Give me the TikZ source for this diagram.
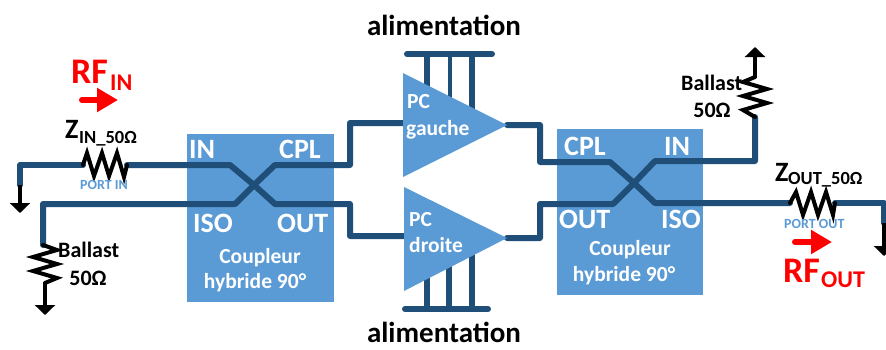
\documentclass[tikz,border=0pt]{standalone}
\usepackage{fontspec}
\setmainfont{Carlito}
\usetikzlibrary{arrows.meta}
\definecolor{boxblue}{HTML}{5B9BD5}
\definecolor{wire}{HTML}{1F4E79}
\tikzset{
  txt/.style={inner sep=0pt,anchor=base west,font=\bfseries},
  ctxt/.style={inner sep=0pt,anchor=base,font=\bfseries},
  pintext/.style={txt,text=white,font=\bfseries\fontsize{28}{28}\selectfont},
  captext/.style={ctxt,text=white,font=\bfseries\fontsize{21.5}{21.5}\selectfont},
  pctxt/.style={txt,text=white,font=\bfseries\fontsize{21.5}{21.5}\selectfont},
  blk/.style={txt,font=\bfseries\fontsize{22}{22}\selectfont},
  blkc/.style={ctxt,font=\bfseries\fontsize{22}{22}\selectfont},
  zmain/.style={txt,font=\bfseries\fontsize{28}{28}\selectfont},
  zsub/.style={txt,font=\bfseries\fontsize{18.5}{18.5}\selectfont},
  porttext/.style={txt,text=boxblue,font=\bfseries\fontsize{14}{14}\selectfont},
  rfmain/.style={txt,text=red,font=\bfseries\fontsize{36}{36}\selectfont},
  rfsub/.style={txt,text=red,font=\bfseries\fontsize{24}{24}\selectfont},
  alim/.style={ctxt,font=\bfseries\fontsize{29}{29}\selectfont},
  bluebox/.style={fill=boxblue,draw=none,inner sep=0pt},
  wireline/.style={draw=wire,line width=6pt,line cap=round,line join=round},
  zigzag/.style={draw=black,line width=4pt,line join=miter,line cap=round},
  gnd/.style={draw=black,line width=4pt,-{Triangle[width=20pt,length=10pt]}},
  rfarrow/.style={draw=red,line width=6pt,line cap=round,-{Triangle[width=23pt,length=21pt]}}
}
\begin{document}
\begin{tikzpicture}[x=1pt,y=-1pt]
\useasboundingbox (0,0) rectangle (886,349);
% coupler boxes
\node[bluebox,minimum width=147pt,minimum height=168pt] (c1) at (260.5,218) {};
\node[bluebox,minimum width=146pt,minimum height=166pt] (c2) at (630,212) {};
% pins
\coordinate (x1) at (254,185);
\coordinate (x2) at (634,183);
\coordinate (pgin) at (404,123);
\coordinate (pgout) at (507,125);
\coordinate (pdin) at (404,236);
\coordinate (pdout) at (507,238);
\coordinate (rinL) at (83,165);
\coordinate (rinR) at (127,165);
\coordinate (roL) at (790,203);
\coordinate (roR) at (835,203);
\coordinate (bl) at (43,245);
\coordinate (br) at (755,117);
\coordinate (gndA) at (20,185);
\coordinate (gndB) at (884,223);
% supply rails (behind amplifiers)
\coordinate (ta) at (407,54); \coordinate (tb) at (492,54);
\coordinate (ba) at (405,309); \coordinate (bb) at (488,309);
\draw[wireline] (ta) -- (tb);
\draw[wireline] (ba) -- (bb);
\draw[wire,line width=6pt] (427,54) -- (427,90);
\draw[wire,line width=3.5pt] (450,54) -- (450,105);
\draw[wire,line width=6pt] (472,54) -- (472,115);
\draw[wire,line width=6pt] (427,309) -- (427,270);
\draw[wire,line width=6pt] (449,309) -- (449,260);
\draw[wire,line width=6pt] (472,309) -- (472,250);
% amplifier wires
\draw[wireline] (x1) -- (275,165) -- (350,165) -- (350,123) -- (pgin);
\draw[wireline] (x1) -- (275,204) -- (350,204) -- (350,236) -- (pdin);
\draw[wireline] (pgout) -- (540,125) -- (540,162) -- (610,162) -- (x2);
\draw[wireline] (pdout) -- (540,238) -- (540,204) -- (613,204) -- (x2);
% amplifiers
\fill[boxblue] (403,73) -- (507,125) -- (403,177) -- cycle;
\fill[boxblue] (404,187) -- (507,238) -- (404,291) -- cycle;
% coupler wires
\draw[wireline] (gndA) -- (20,165) -- (rinL);
\draw[wireline] (rinR) -- (230,165) -- (x1);
\draw[wireline] (bl) -- (43,204) -- (235,204) -- (x1);
\draw[wireline] (x2) -- (655,161) -- (755,161) -- (br);
\draw[wireline] (x2) -- (655,203) -- (roL);
\draw[wireline] (roR) -- (884,203) -- (gndB);
% resistors
\draw[zigzag] (rinL) -- (87,153) -- (94,176) -- (102,153) -- (109,176) -- (117,153) -- (124,177) -- (rinR);
\draw[zigzag] (roL) -- (796,192) -- (803,215) -- (811,192) -- (818,215) -- (826,192) -- (833,215) -- (roR);
\draw[zigzag] (bl) -- (57,250) -- (33,257) -- (57,264) -- (33,271) -- (57,278) -- (45,283);
\draw[zigzag] (br) -- (743,110) -- (767,103) -- (743,96) -- (767,89) -- (743,82) -- (755,77);
% ground arrows
\draw[gnd] (gndA) -- (20,213);
\draw[gnd] (45,283) -- (45,315);
\draw[gnd] (755,77) -- (755,47);
\draw[gnd] (gndB) -- (884,256);
% RF arrows
\coordinate (ra1) at (82,100); \coordinate (ra2) at (118,100);
\coordinate (rb1) at (795,242); \coordinate (rb2) at (832,242);
\draw[rfarrow] (ra1) -- (ra2);
\draw[rfarrow] (rb1) -- (rb2);
% labels
\node[alim] (al1) at (444,35) {alimentation};
\node[alim] (al2) at (444,342) {alimentation};
\node[rfmain] (rfi) at (71,83) {RF};
\node[rfsub] (rfis) at (110,90) {IN};
\node[rfmain] (rfo) at (783,282) {RF};
\node[rfsub] (rfos) at (821,287) {OUT};
\node[zmain] (zi) at (65,138) {Z};
\node[zsub] (zis) at (79,143) {IN\_50Ω};
\node[zmain] (zo) at (775,181) {Z};
\node[zsub] (zos) at (788,184) {OUT\_50Ω};
\node[porttext] (pi) at (80,189) {PORT IN};
\node[porttext] (po) at (784,228) {PORT OUT};
\node[blk] (b1) at (58,257) {Ballast};
\node[blkc] (b1v) at (88,285) {50Ω};
\node[blk] (b2) at (681,90) {Ballast};
\node[blkc] (b2v) at (712,117) {50Ω};
\node[pintext] (p1) at (189,158) {IN};
\node[pintext] (p2) at (279,158) {CPL};
\node[pintext] (p3) at (193,232) {ISO};
\node[pintext] (p4) at (277,232) {OUT};
\node[pintext] (p5) at (564,155) {CPL};
\node[pintext] (p6) at (664,155) {IN};
\node[pintext] (p7) at (559,228) {OUT};
\node[pintext] (p8) at (661,228) {ISO};
\node[captext] (t1) at (260,263) {Coupleur};
\node[captext] (t2) at (255,288) {hybride 90°};
\node[captext] (t3) at (630,255) {Coupleur};
\node[captext] (t4) at (624,281) {hybride 90°};
\node[pctxt] (g1) at (407,108) {PC};
\node[pctxt] (g2) at (406,135) {gauche};
\node[pctxt] (d1) at (409,226) {PC};
\node[pctxt] (d2) at (409,252) {droite};
\end{tikzpicture}
\end{document}
